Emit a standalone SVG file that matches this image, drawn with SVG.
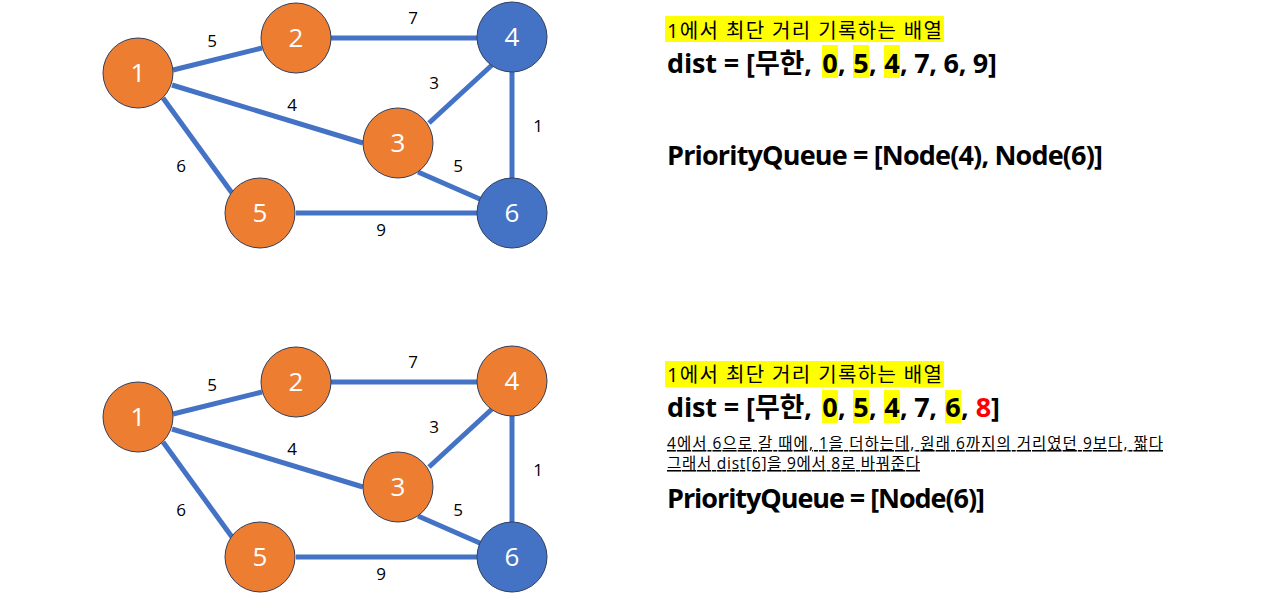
<svg xmlns="http://www.w3.org/2000/svg" width="1282" height="597" viewBox="0 0 1282 597">
<style>
.edge{stroke:#4472C4;stroke-width:5;fill:none}
.n circle{stroke:#2F3E5C;stroke-width:1}
.or{fill:#ED7D31}
.bl{fill:#4472C4}
.nl{font-family:"Open Sans","Noto Sans CJK KR",sans-serif;font-size:26px;fill:#fff;text-anchor:middle}
.el{font-family:"Open Sans","Noto Sans CJK KR",sans-serif;font-size:17px;fill:#000;text-anchor:middle}
.t{font-family:"Open Sans","Noto Sans CJK KR",sans-serif;fill:#000}
.h20{font-size:20px}
.b27{font-size:27px;font-weight:bold}
.s15{font-size:15.5px;text-decoration:underline}
.hl{fill:#FFFF00}
.c{text-anchor:middle}
</style>
<rect width="1282" height="597" fill="#fff"/>
<g id="connectors">
<g id="top-edges">
<line class="edge" x1="173" y1="70" x2="262" y2="48"/>
<line class="edge" x1="331" y1="38" x2="477" y2="38"/>
<line class="edge" x1="172" y1="85" x2="363" y2="143"/>
<line class="edge" x1="429" y1="123" x2="492" y2="65"/>
<line class="edge" x1="512" y1="72" x2="512" y2="178"/>
<line class="edge" x1="418" y1="172" x2="482" y2="200"/>
<line class="edge" x1="163" y1="98" x2="232" y2="193"/>
<line class="edge" x1="296" y1="213" x2="477" y2="213"/>
</g>
<g id="bottom-edges" transform="translate(0,344)">
<line class="edge" x1="173" y1="70" x2="262" y2="48"/>
<line class="edge" x1="331" y1="38" x2="477" y2="38"/>
<line class="edge" x1="172" y1="85" x2="363" y2="143"/>
<line class="edge" x1="429" y1="123" x2="492" y2="65"/>
<line class="edge" x1="512" y1="72" x2="512" y2="178"/>
<line class="edge" x1="418" y1="172" x2="482" y2="200"/>
<line class="edge" x1="163" y1="98" x2="232" y2="193"/>
<line class="edge" x1="296" y1="213" x2="477" y2="213"/>
</g>
<g id="edge-labels">
<text class="el" x="212" y="47">5</text>
<text class="el" x="413" y="24">7</text>
<text class="el" x="434" y="89">3</text>
<text class="el" x="292" y="111">4</text>
<text class="el" x="538" y="132">1</text>
<text class="el" x="181" y="172">6</text>
<text class="el" x="458" y="172">5</text>
<text class="el" x="381" y="236">9</text>
<g transform="translate(0,344)">
<text class="el" x="212" y="47">5</text>
<text class="el" x="413" y="24">7</text>
<text class="el" x="434" y="89">3</text>
<text class="el" x="292" y="111">4</text>
<text class="el" x="538" y="132">1</text>
<text class="el" x="181" y="172">6</text>
<text class="el" x="458" y="172">5</text>
<text class="el" x="381" y="236">9</text>
</g>
</g>
</g>
<g id="top-n1" class="n"><circle class="or" cx="138" cy="73" r="35"/><text class="nl" x="138" y="82">1</text></g>
<g id="top-n2" class="n"><circle class="or" cx="296" cy="38" r="35"/><text class="nl" x="296" y="47">2</text></g>
<g id="top-n4" class="n"><circle class="bl" cx="512" cy="37" r="35"/><text class="nl" x="512" y="46">4</text></g>
<g id="top-n3" class="n"><circle class="or" cx="398" cy="143" r="35"/><text class="nl" x="398" y="152">3</text></g>
<g id="top-n5" class="n"><circle class="or" cx="260" cy="213" r="35"/><text class="nl" x="260" y="222">5</text></g>
<g id="top-n6" class="n"><circle class="bl" cx="512" cy="213" r="35"/><text class="nl" x="512" y="222">6</text></g>
<g id="bot-n1" class="n"><circle class="or" cx="138" cy="417" r="35"/><text class="nl" x="138" y="426">1</text></g>
<g id="bot-n2" class="n"><circle class="or" cx="296" cy="382" r="35"/><text class="nl" x="296" y="391">2</text></g>
<g id="bot-n4" class="n"><circle class="or" cx="512" cy="381" r="35"/><text class="nl" x="512" y="390">4</text></g>
<g id="bot-n3" class="n"><circle class="or" cx="398" cy="487" r="35"/><text class="nl" x="398" y="496">3</text></g>
<g id="bot-n5" class="n"><circle class="or" cx="260" cy="557" r="35"/><text class="nl" x="260" y="566">5</text></g>
<g id="bot-n6" class="n"><circle class="bl" cx="512" cy="557" r="35"/><text class="nl" x="512" y="566">6</text></g>
<g id="top-text">
<rect class="hl" x="665" y="16" width="279" height="26"/>
<text class="t h20" x="667" y="38" textLength="275">1에서 최단 거리 기록하는 배열</text>
<rect class="hl" x="822" y="45" width="16" height="33"/>
<rect class="hl" x="853" y="45" width="16" height="33"/>
<rect class="hl" x="884" y="45" width="16" height="33"/>
<text class="t b27" x="667" y="73" textLength="145">dist = [무한,</text>
<text class="t b27 c" x="830" y="73">0</text>
<text class="t b27" x="838" y="73">,</text>
<text class="t b27 c" x="861" y="73">5</text>
<text class="t b27" x="869" y="73">,</text>
<text class="t b27 c" x="892" y="73">4</text>
<text class="t b27" x="900" y="73" textLength="97">, 7, 6, 9]</text>
<text class="t b27" x="667" y="165" textLength="436">PriorityQueue = [Node(4), Node(6)]</text>
</g>
<g id="bottom-text">
<rect class="hl" x="665" y="361" width="279" height="26"/>
<text class="t h20" x="667" y="382" textLength="275">1에서 최단 거리 기록하는 배열</text>
<rect class="hl" x="822" y="390" width="16" height="33"/>
<rect class="hl" x="853" y="390" width="16" height="33"/>
<rect class="hl" x="884" y="390" width="16" height="33"/>
<rect class="hl" x="945" y="390" width="16" height="33"/>
<text class="t b27" x="667" y="417" textLength="145">dist = [무한,</text>
<text class="t b27 c" x="830" y="417">0</text>
<text class="t b27" x="838" y="417">,</text>
<text class="t b27 c" x="861" y="417">5</text>
<text class="t b27" x="869" y="417">,</text>
<text class="t b27 c" x="892" y="417">4</text>
<text class="t b27" x="900" y="417" textLength="37">, 7,</text>
<text class="t b27 c" x="953" y="417">6</text>
<text class="t b27" x="961" y="417">,</text>
<text class="t b27 c" x="983.5" y="417" style="fill:#FF0000">8</text>
<text class="t b27" x="991" y="417">]</text>
<text class="t s15" x="667" y="449" textLength="496">4에서 6으로 갈 때에, 1을 더하는데, 원래 6까지의 거리였던 9보다, 짧다</text>
<text class="t s15" x="667" y="469" textLength="253">그래서 dist[6]을 9에서 8로 바꿔준다</text>
<text class="t b27" x="667" y="508" textLength="318">PriorityQueue = [Node(6)]</text>
</g>
</svg>
